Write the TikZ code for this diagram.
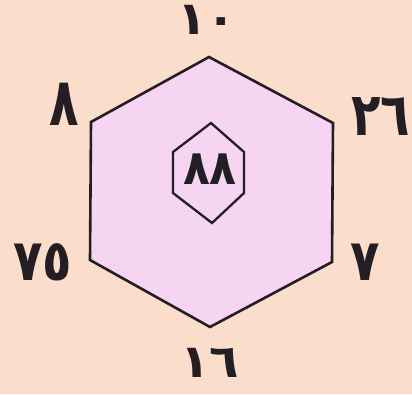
\documentclass[tikz,border=0pt]{standalone}
\usepackage{fontspec}
\usepackage{graphicx}
\newfontfamily\arabicfont[Script=Arabic]{DejaVu Sans}
\TeXXeTstate=1
\usepackage{xcolor}
\definecolor{peach}{RGB}{250,221,203}
\definecolor{lilac}{RGB}{245,213,241}
\definecolor{ink}{RGB}{35,30,35}
% digits drawn taller than the font gives them
\newcommand{\tallnum}[2]{\scalebox{1.05}[#1]{#2}}
\tikzset{
  num/.style={font=\arabicfont\bfseries\fontsize{46}{50}\selectfont, text=ink, inner sep=0pt},
  hexline/.style={draw=ink, line width=2.6pt, line join=miter},
}

\begin{document}
\begin{tikzpicture}[x=1pt, y=-1pt]

%% Background
\fill[peach] (0,0) rectangle (412,394);
\useasboundingbox (0,0) rectangle (412,394);

%% Outer hexagon
\coordinate (t)  at (209,57);
\coordinate (tr) at (333,123);
\coordinate (br) at (332,262);
\coordinate (b)  at (210,327);
\coordinate (bl) at (90,260);
\coordinate (tl) at (91,122);
\filldraw[hexline, fill=lilac] (t) -- (tr) -- (br) -- (b) -- (bl) -- (tl) -- cycle;

%% Inner hexagon
\coordinate (it)  at (211,123);
\coordinate (itr) at (244,152);
\coordinate (ibr) at (244,193);
\coordinate (ib)  at (212,223);
\coordinate (ibl) at (173,193);
\coordinate (itl) at (173,152);
\draw[hexline, line width=2.3pt] (it) -- (itr) -- (ibr) -- (ib) -- (ibl) -- (itl) -- cycle;
\node[num, font=\arabicfont\bfseries\fontsize{42}{46}\selectfont] (n88) at (210,169) {\scalebox{1.05}[1.15]{٨٨}};

%% Corner numbers
\node[num] (n10) at (207,20)  {\tallnum{1.0}{١٠}};
\node[num] (n26) at (381,117) {\tallnum{1.3}{٢٦}};
\node[num] (n7)  at (365,262) {\tallnum{1.25}{٧}};
\node[num] (n16) at (210,363) {\tallnum{1.0}{١٦}};
\node[num] (n75) at (43,262)  {\tallnum{1.25}{٧٥}};
\node[num] (n8)  at (64,104)  {\tallnum{1.45}{٨}};

\end{tikzpicture}
\end{document}
